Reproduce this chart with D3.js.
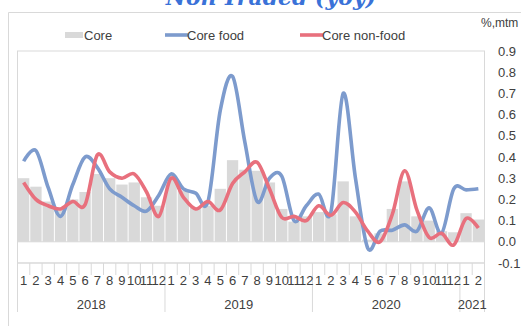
<!DOCTYPE html>
<html><head><meta charset="utf-8">
<script src="https://cdn.jsdelivr.net/npm/d3@7"></script>
<style>
html,body{margin:0;padding:0;background:#fff;}
svg{display:block;font-family:"Liberation Sans",Arial,sans-serif;}
</style></head>
<body><svg id="c" width="521" height="326"></svg>
<script>
// ---- data ----
const years = ["2018","2019","2020","2021"];
const yearCounts = [12,12,12,2];
const monthLabels = ["1","2","3","4","5","6","7","8","9","10","11","12",
  "1","2","3","4","5","6","7","8","9","10","11","12",
  "1","2","3","4","5","6","7","8","9","10","11","12",
  "1","2"];
const categories = monthLabels.map((m,i)=>{
  let acc=0; for(let k=0;k<years.length;k++){ if(i<acc+yearCounts[k]) return years[k]+"-"+m; acc+=yearCounts[k]; }
});
const core = [0.30,0.26,0.19,0.16,0.20,0.235,0.32,0.30,0.27,0.28,0.21,0.17,
  0.30,0.24,0.16,0.17,0.25,0.385,0.34,0.335,0.28,0.155,0.095,0.12,
  0.14,0.13,0.285,0.12,0.01,0.04,0.155,0.285,0.12,0.10,0.05,0.045,
  0.135,0.105];
const coreFood = [0.38,0.43,0.255,0.12,0.27,0.40,0.35,0.25,0.21,0.17,0.145,0.22,
  0.32,0.25,0.23,0.19,0.62,0.78,0.47,0.19,0.30,0.31,0.10,0.17,
  0.225,0.14,0.70,0.30,-0.03,0.05,0.055,0.08,0.05,0.16,0.04,0.25,
  0.245,0.25];
const coreNonFood = [0.28,0.20,0.17,0.155,0.19,0.175,0.41,0.33,0.30,0.32,0.235,0.12,
  0.30,0.21,0.155,0.19,0.15,0.275,0.33,0.375,0.25,0.115,0.12,0.10,
  0.17,0.125,0.185,0.14,0.05,0.0,0.13,0.335,0.15,0.02,0.04,-0.015,
  0.11,0.065];
const yTicks = [-0.1,0,0.1,0.2,0.3,0.4,0.5,0.6,0.7,0.8,0.9];
const yTickLabels = ["-0.1","0.0","0.1","0.2","0.3","0.4","0.5","0.6","0.7","0.8","0.9"];
const seriesNames = ["Core","Core food","Core non-food"];
const colors = {bar:"#d9d9d9", food:"#7d9bcd", nonfood:"#e8707d"};

// ---- layout ----
const svg = d3.select("#c");
const L=17.5, R=484.5, T=51, B=263;
const x = d3.scaleBand().domain(categories).range([L,R]).paddingInner(0.08).paddingOuter(0.04);
const y = d3.scaleLinear().domain([-0.1,0.9]).range([B,T]);
const step = x.step();
const cx = c => x(c)+x.bandwidth()/2;
const edge = i => x(categories[0]) - step*x.paddingInner()/2 + step*i;

// title (cut at top)
svg.append("text").attr("x",271).attr("y",5).attr("text-anchor","middle")
  .attr("font-family","'DejaVu Serif','Liberation Serif',serif").attr("font-weight","bold").attr("font-style","italic")
  .attr("font-size",22).attr("fill","#3a72d8").text("Non-Traded (yoy)");

// outer box
svg.append("path").attr("d",`M8.5,330V12.5H530`).attr("fill","none").attr("stroke","#d9d9d9");

// plot frame
svg.append("rect").attr("x",L).attr("y",T).attr("width",R-L).attr("height",B-T)
  .attr("fill","none").attr("stroke","#d9d9d9");

// bars
svg.append("g").selectAll("rect").data(core).join("rect")
  .attr("x",(d,i)=>x(categories[i])).attr("width",x.bandwidth())
  .attr("y",d=>Math.min(y(d),y(0))).attr("height",d=>Math.abs(y(d)-y(0)))
  .attr("fill",colors.bar);

// zero line
svg.append("line").attr("x1",L).attr("x2",R).attr("y1",y(0)).attr("y2",y(0)).attr("stroke","#d9d9d9");

// lines
const line = d3.line().x((d,i)=>cx(categories[i])).y(d=>y(d)).curve(d3.curveCardinal.tension(0));
svg.append("path").datum(coreFood).attr("d",line).attr("fill","none").attr("stroke",colors.food).attr("stroke-width",3.6).attr("stroke-linejoin","round");
svg.append("path").datum(coreNonFood).attr("d",line).attr("fill","none").attr("stroke",colors.nonfood).attr("stroke-width",3.6).attr("stroke-linejoin","round");

// x axis
const xa = svg.append("g");
xa.append("line").attr("x1",L).attr("x2",R).attr("y1",B).attr("y2",B).attr("stroke","#d9d9d9");
const yearStarts=[0]; yearCounts.forEach((c,k)=>yearStarts.push(yearStarts[k]+c));
for(let i=0;i<=categories.length;i++){
  const isYear = yearStarts.includes(i);
  xa.append("line").attr("x1",edge(i)).attr("x2",edge(i)).attr("y1",B).attr("y2",isYear?312:275).attr("stroke","#d9d9d9");
}
xa.selectAll("text.m").data(monthLabels).join("text").attr("class","m")
  .attr("x",(d,i)=>cx(categories[i])).attr("y",285).attr("text-anchor","middle")
  .attr("font-size",13).attr("fill","#404040").text(d=>d);
years.forEach((yr,k)=>{
  const a=edge(yearStarts[k]), b=edge(yearStarts[k+1]);
  xa.append("text").attr("x",(a+b)/2).attr("y",309).attr("text-anchor","middle")
    .attr("font-size",13).attr("fill","#404040").text(yr);
});

// y axis (right)
const ya = svg.append("g").attr("transform",`translate(498,0)`)
  .call(d3.axisRight(y).tickValues(yTicks).tickSize(0).tickPadding(0).tickFormat((d,i)=>yTickLabels[i]));
ya.select(".domain").remove();
ya.selectAll("text").attr("font-size",13).attr("fill","#404040").attr("font-family","'Liberation Sans',Arial,sans-serif");
svg.append("text").attr("x",481).attr("y",27).attr("font-size",12).attr("fill","#404040").text("%,mtm");

// legend
const lg = svg.append("g").attr("font-size",13).attr("fill","#404040");
lg.append("rect").attr("x",65).attr("y",32).attr("width",18).attr("height",6).attr("fill",colors.bar);
lg.append("text").attr("x",84).attr("y",40).text(seriesNames[0]);
lg.append("line").attr("x1",165).attr("x2",188).attr("y1",35).attr("y2",35).attr("stroke",colors.food).attr("stroke-width",3.6);
lg.append("text").attr("x",187).attr("y",40).text(seriesNames[1]);
lg.append("line").attr("x1",300).attr("x2",323).attr("y1",35).attr("y2",35).attr("stroke",colors.nonfood).attr("stroke-width",3.6);
lg.append("text").attr("x",322).attr("y",40).text(seriesNames[2]);
</script></body></html>
